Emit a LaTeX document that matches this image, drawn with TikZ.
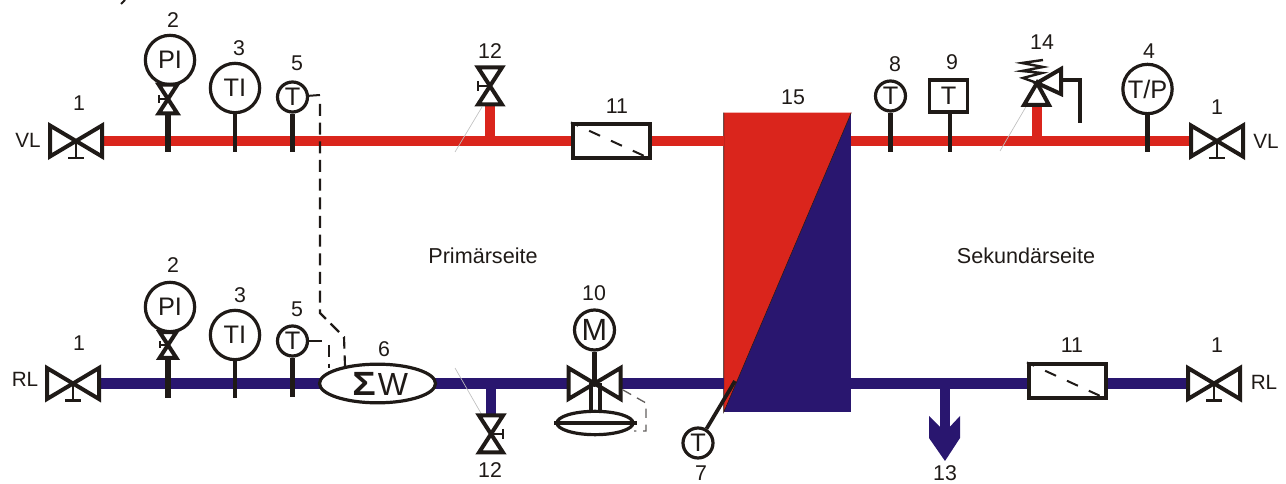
\documentclass[tikz,border=0pt]{standalone}
\usepackage{fontspec}
\setmainfont{Liberation Sans}
\usepackage{xcolor}
\usetikzlibrary{shapes.geometric}

\definecolor{ink}{HTML}{1F1A17}
\definecolor{flowred}{HTML}{DA251C}
\definecolor{returnblue}{HTML}{29166F}

\tikzset{
  num/.style={font=\fontsize{16}{16}\selectfont,text=ink,inner sep=0pt},
  side/.style={font=\fontsize{15.5}{16}\selectfont,text=ink,inner sep=0pt},
  gauge/.style={circle,draw=ink,line width=2.4pt,fill=white,inner sep=0pt,minimum size=37pt,text=ink,font=\fontsize{19}{19}\selectfont},
  probe/.style={gauge,minimum size=22.5pt},
  stem/.style={draw=ink,line width=3.2pt},
  fatstem/.style={draw=ink,line width=4pt},
  redpipe/.style={draw=flowred,line width=7.5pt},
  bluepipe/.style={draw=returnblue,line width=8.2pt},
  signal/.style={draw=ink,line width=1.6pt,dash pattern=on 9pt off 5pt},
  hair/.style={draw=black!25,line width=.5pt},
  filterbox/.style={rectangle,draw=ink,line width=2.8pt,fill=white,inner sep=0pt,minimum width=58pt,minimum height=25pt},
  bowtie/.pic={
    \draw[ink,fill=white,line width=3pt] (-26,-15.5) -- (26,15.5) -- (26,-15.5) -- (-26,15.5) -- cycle;
  },
  tbar/.pic={
    \draw[ink,line width=1.6pt] (0,0) -- (0,17) (-8,17) -- (8,17);
  },
  gate/.pic={
    \draw[ink,fill=white,line width=3pt] (-12,-18.5) -- (12,18.5) -- (-12,18.5) -- (12,-18.5) -- cycle;
    \draw[ink,line width=1.5pt] (0,0) -- (-12,0) (-12,-5) -- (-12,5);
  }
}

\begin{document}
\begin{tikzpicture}[x=.75pt,y=-.75pt]
  \useasboundingbox (0,0) rectangle (1286,484);
  % fixed points
  \coordinate (vlA) at (76,141);
  \coordinate (vlB) at (1217,141);
  \coordinate (rlA) at (73,383.5);
  \coordinate (rlB) at (1214,383.5);
  \coordinate (vlAedge) at (102,141);
  \coordinate (vlBedge) at (1191,141);
  \coordinate (rlAedge) at (99,383.5);
  \coordinate (rlBedge) at (1188,383.5);
  \coordinate (gateTop) at (490,86);
  \coordinate (gateTopEdge) at (490,105);
  \coordinate (gateBot) at (491,434);
  \coordinate (gateBotEdge) at (491,415);
  \coordinate (mixer) at (594.5,383.5);
  \coordinate (mixerA) at (569,383.5);
  \coordinate (mixerB) at (620,383.5);
  \coordinate (relief) at (1037,83);
  \coordinate (reliefEdge) at (1037,105);

  % heat exchanger
  \node[rectangle,fill=returnblue,inner sep=0pt,minimum width=95.25pt,minimum height=224.25pt] (hx) at (787.5,262.5) {};
  \fill[flowred] (hx.north west) -- (hx.north east) -- (hx.south west) -- cycle;
  \draw[ink,line width=.4pt] (hx.north east) -- (hx.south west) -- (hx.north west);

  % pipes
  \draw[redpipe] (vlAedge) -- (vlA -| hx.west);
  \draw[redpipe] (hx.east |- vlB) -- (vlBedge);
  \draw[bluepipe] (rlAedge) -- (mixerA);
  \draw[bluepipe] (mixerB) -- (rlA -| hx.west);
  \draw[bluepipe] (hx.east |- rlB) -- (rlBedge);
  \draw[redpipe,line width=8pt] (gateTop |- vlA) -- (gateTopEdge);
  \draw[redpipe,line width=8pt] (relief |- vlB) -- (reliefEdge);
  \draw[bluepipe] (gateBot |- rlA) -- (gateBotEdge);

  % drain arrow
  \coordinate (drain) at (945,436);
  \draw[bluepipe] (drain |- rlA) -- (drain);
  \fill[returnblue] (929,416) -- (945,432) -- (960,416) -- (960,438) -- (945,461) -- (929,438) -- cycle;

  % thin leader lines
  \coordinate (hairA) at (455,152);
  \coordinate (hairB) at (482,107);
  \coordinate (hairC) at (455,368);
  \coordinate (hairD) at (482,415);
  \coordinate (hairE) at (1000,151);
  \coordinate (hairF) at (1027,105);
  \draw[hair] (hairA) -- (hairB);
  \draw[hair] (hairC) -- (hairD);
  \draw[hair] (hairE) -- (hairF);

  % instruments, upper line
  \node[gauge] (piA) at (170,60) {PI};
  \node[gauge] (tiA) at (235,88) {TI};
  \node[probe] (tA) at (292.5,97) {T};
  \node[probe] (tC) at (890.5,96) {T};
  \node[rectangle,draw=ink,line width=2.8pt,fill=white,inner sep=0pt,minimum width=28.5pt,minimum height=23.5pt,text=ink,font=\fontsize{19}{19}\selectfont] (tbox) at (948.5,96) {T};
  \node[gauge] (tp) at (1147.5,89) {T/P};
  \coordinate (piAend) at (168,152);
  \coordinate (tiAend) at (235,152);
  \coordinate (tAend) at (292.5,152);
  \coordinate (tCend) at (890.5,152);
  \coordinate (tboxend) at (950,152);
  \coordinate (tpend) at (1147.5,152);
  \draw[fatstem] (168,110) -- (piAend);
  \draw[stem] (tiA) -- (tiAend);
  \draw[stem] (tA) -- (tAend);
  \draw[stem] (tC) -- (tCend);
  \draw[stem] (tbox.south -| tboxend) -- (tboxend);
  \draw[stem] (tp) -- (tpend);
  \pic[scale=.78] at (168,99) {gate};

  % instruments, lower line
  \node[gauge] (piB) at (170,307) {PI};
  \node[gauge] (tiB) at (235,335) {TI};
  \node[probe] (tB) at (292.5,341) {T};
  \node[ellipse,draw=ink,line width=2.4pt,fill=white,inner sep=0pt,minimum width=87pt,minimum height=29pt,text=ink,font=\fontsize{24}{24}\selectfont] (sumW) at (377.5,383.5) {\kern4pt\scalebox{1.22}[1.05]{\textbf{Σ}}\kern1.5ptW};
  \coordinate (piBend) at (168,398);
  \coordinate (tiBend) at (235,398);
  \coordinate (tBend) at (292.5,397);
  \draw[fatstem] (168,355) -- (piBend);
  \draw[stem] (tiB) -- (tiBend);
  \draw[stem] (tB) -- (tBend);
  \pic[scale=.7] at (168,345) {gate};

  % signal lines
  \coordinate (sigA) at (320,95);
  \coordinate (sigB) at (320,313);
  \coordinate (sigC) at (344,337);
  \coordinate (sigD) at (345,366);
  \coordinate (sigE) at (322,341);
  \coordinate (sigF) at (329,345);
  \coordinate (sigG) at (329,368);
  \draw[ink,line width=1.5pt] (tA) -- (sigA);
  \draw[ink,line width=1.5pt] (tB) -- (sigE);
  \draw[signal] (320,104) -- (sigB) -- (sigC) -- (sigD);
  \draw[signal] (sigF) -- (sigG);

  % valves
  \pic at (vlA) {bowtie};
  \pic at (vlB) {bowtie};
  \pic at (rlA) {bowtie};
  \pic at (rlB) {bowtie};
  \pic at (vlA) {tbar};
  \pic at (vlB) {tbar};
  \pic at (rlA) {tbar};
  \pic at (rlB) {tbar};
  \pic at (gateTop) {gate};
  \pic[xscale=-1] at (gateBot) {gate};

  % filters
  \node[filterbox] (filterA) at (611.5,141) {};
  \node[filterbox] (filterB) at (1067.5,381) {};
  \draw[ink,line width=1.5pt,dash pattern=on 9pt off 9pt,dash phase=3pt] (filterA.north west) -- (filterA.south east);
  \draw[ink,line width=1.5pt,dash pattern=on 9pt off 9pt,dash phase=3pt] (filterB.north west) -- (filterB.south east);

  % motor valve
  \node[probe,minimum size=30pt,font=\fontsize{23}{23}\selectfont] (motor) at (594.5,330) {M};
  \node[ellipse,draw=ink,line width=2.4pt,fill=white,inner sep=0pt,minimum width=57pt,minimum height=17.5pt] (actuator) at (595,423) {};
  \coordinate (rodA) at (591,383.5);
  \coordinate (rodB) at (600,383.5);
  \pic at (mixer) {bowtie};
  \draw[fatstem] (motor) -- (mixer);
  \draw[stem,line width=2.4pt] (rodA) -- (rodA |- actuator.north);
  \draw[stem,line width=2.4pt] (rodB) -- (rodB |- actuator.north);
  \draw[stem,line width=3pt] (554,423) -- (637,423);
  \draw[ink!70,line width=1pt,dash pattern=on 7pt off 5pt] (623,390) -- (646,403) -- (646,431) -- (634,431);
  \fill[ink] (mixer) circle (3.5);

  % outlet probe
  \node[probe] (tD) at (698,443) {T};
  \coordinate (tDend) at (735,381);
  \draw[stem,line width=2.8pt] (tD) -- (tDend);

  % relief valve
  \draw[ink,fill=white,line width=3pt] (relief) -- (1049,105) -- (1024,105) -- cycle;
  \draw[ink,fill=white,line width=3pt] (relief) -- (1061,69) -- (1061,94) -- cycle;
  \coordinate (ventA) at (1061,80);
  \coordinate (ventB) at (1080,80);
  \coordinate (ventC) at (1080,123);
  \draw[ink,line width=3pt] (ventA) -- (ventB) -- (ventC);
  \draw[ink,line width=1.8pt] (1043,60) -- (1022,63) -- (1043,67) -- (1022,71) -- (1042,73) -- (1023,78) -- (relief);

  % cut off heading
  \draw[ink,line width=1.5pt] (125,0) -- (121,4);

  % numbers
  \node[num] (n1a) at (79,103) {1};
  \node[num] (n2a) at (173,20) {2};
  \node[num] (n3a) at (239,48) {3};
  \node[num] (n5a) at (297,63) {5};
  \node[num] (n12a) at (490,51) {12};
  \node[num] (n11a) at (617,106) {11};
  \node[num] (n15) at (793,97) {15};
  \node[num] (n8) at (895,64) {8};
  \node[num] (n9) at (952,62) {9};
  \node[num] (n14) at (1042,42) {14};
  \node[num] (n4) at (1149,51) {4};
  \node[num] (n1b) at (1217,107) {1};
  \node[num] (n1c) at (79,343) {1};
  \node[num] (n2b) at (173,265) {2};
  \node[num] (n3b) at (240,295) {3};
  \node[num] (n5b) at (297,309) {5};
  \node[num] (n6) at (384,349) {6};
  \node[num] (n10) at (594,293) {10};
  \node[num] (n12b) at (490,470) {12};
  \node[num] (n7) at (701,473) {7};
  \node[num] (n13) at (945,473) {13};
  \node[num] (n11b) at (1072,345) {11};
  \node[num] (n1d) at (1217,345) {1};

  % side texts
  \node[side] (vlLeft) at (28,140) {VL};
  \node[side] (vlRight) at (1266,141) {VL};
  \node[side] (rlLeft) at (25,379) {RL};
  \node[side] (rlRight) at (1264,382) {RL};
  \node[side,font=\fontsize{16.2}{17}\selectfont] (primary) at (483,256) {Primärseite};
  \node[side,font=\fontsize{16.2}{17}\selectfont] (secondary) at (1026,256) {Sekundärseite};
\end{tikzpicture}
\end{document}
